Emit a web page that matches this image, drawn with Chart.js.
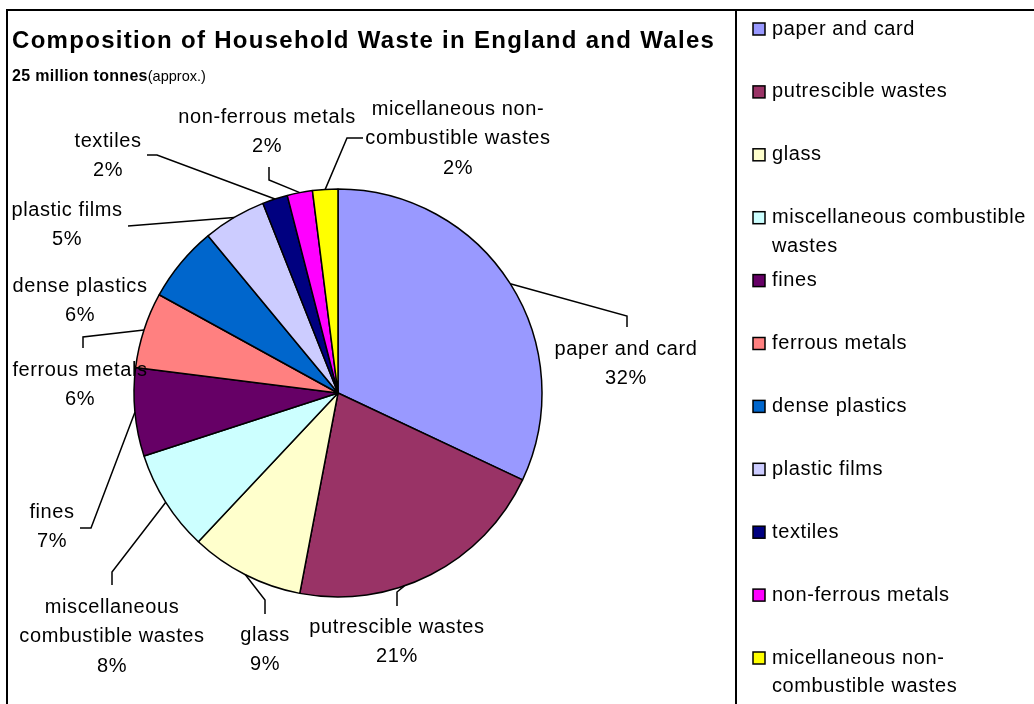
<!DOCTYPE html>
<html>
<head>
<meta charset="utf-8">
<script src="https://cdn.jsdelivr.net/npm/chart.js@4.4.0/dist/chart.umd.min.js"></script>
<style>
  html, body { margin: 0; padding: 0; background: #fff; }
  canvas { display: block; }
</style>
</head>
<body>
<canvas id="c" width="1034" height="704"></canvas>
<script>
// ---------- data ----------
const categories = [
  "paper and card", "putrescible wastes", "glass", "miscellaneous combustible wastes",
  "fines", "ferrous metals", "dense plastics", "plastic films", "textiles",
  "non-ferrous metals", "micellaneous non-combustible wastes"
];
const values = [32, 21, 9, 8, 7, 6, 6, 5, 2, 2, 2];
const colors = ["#9999FF", "#993366", "#FFFFCC", "#CCFFFF", "#660066", "#FF8080",
                "#0066CC", "#CCCCFF", "#000080", "#FF00FF", "#FFFF00"];
const sliceLabelLines = [
  ["paper and card"], ["putrescible wastes"], ["glass"], ["miscellaneous", "combustible wastes"],
  ["fines"], ["ferrous metals"], ["dense plastics"], ["plastic films"], ["textiles"],
  ["non-ferrous metals"], ["micellaneous non-", "combustible wastes"]
];
const legendLines = [
  ["paper and card"], ["putrescible wastes"], ["glass"], ["miscellaneous combustible", "wastes"],
  ["fines"], ["ferrous metals"], ["dense plastics"], ["plastic films"], ["textiles"],
  ["non-ferrous metals"], ["micellaneous non-", "combustible wastes"]
];
const titleText = "Composition of Household Waste in England and Wales";
const subtitleBold = "25 million tonnes";
const subtitleNormal = "(approx.)";

// ---------- label layout (positions of the data-label text & leader elbows) ----------
const labelLayout = [
  { x: 626, y: 349, leader: [[627, 316], [627, 327]], angleShift: 0 },
  { x: 397, y: 627, leader: [[397, 592], [397, 606]], angleShift: 8 },
  { x: 265, y: 635, leader: [[265, 600], [265, 614]], angleShift: 0 },
  { x: 112, y: 607, leader: [[112, 572], [112, 585]], angleShift: 0 },
  { x: 52,  y: 512, leader: [[91, 528], [80, 528]], angleShift: 0 },
  { x: 80,  y: 370, leader: [[83, 337], [83, 348]], angleShift: 0 },
  { x: 80,  y: 286, leader: null, angleShift: 0 },
  { x: 67,  y: 210, leader: [[128, 226]], angleShift: 0 },
  { x: 108, y: 141, leader: [[157, 155], [147, 155]], angleShift: 0 },
  { x: 267, y: 117, leader: [[269, 180], [269, 167]], angleShift: 0 },
  { x: 458, y: 109, leader: [[347, 138], [363, 138]], angleShift: 0 }
];

const FONT = '"Liberation Sans", Arial, sans-serif';
const LINE_H = 29.5;

const decor = {
  id: 'decor',
  beforeDraw(chart) {
    const ctx = chart.ctx;
    ctx.save();
    ctx.fillStyle = '#fff';
    ctx.fillRect(0, 0, chart.width, chart.height);
    ctx.restore();
  },
  afterDraw(chart) {
    const ctx = chart.ctx;
    const meta = chart.getDatasetMeta(0);
    const total = values.reduce((a, b) => a + b, 0);
    ctx.save();

    // frame
    ctx.strokeStyle = '#000';
    ctx.lineWidth = 2;
    ctx.beginPath();
    ctx.moveTo(7, 706); ctx.lineTo(7, 10); ctx.lineTo(1036, 10);
    ctx.moveTo(736, 10); ctx.lineTo(736, 706);
    ctx.stroke();

    // title
    ctx.fillStyle = '#000';
    ctx.textBaseline = 'alphabetic';
    ctx.textAlign = 'left';
    ctx.font = 'bold 24px ' + FONT;
    ctx.letterSpacing = '1.3px';
    ctx.fillText(titleText, 12, 48);
    ctx.font = 'bold 16px ' + FONT;
    ctx.letterSpacing = '0.3px';
    ctx.fillText(subtitleBold, 12, 81);
    const w = ctx.measureText(subtitleBold).width;
    ctx.font = '14.5px ' + FONT;
    ctx.letterSpacing = '0px';
    ctx.fillText(subtitleNormal, 12 + w, 81);

    // leader lines + labels
    ctx.font = '20px ' + FONT;
    ctx.letterSpacing = '0.6px';
    ctx.textAlign = 'center';
    ctx.textBaseline = 'middle';
    meta.data.forEach((arc, i) => {
      const L = labelLayout[i];
      if (L.leader) {
        const mid = (arc.startAngle + arc.endAngle) / 2 + L.angleShift * Math.PI / 180;
        const r = arc.outerRadius;
        ctx.strokeStyle = '#000';
        ctx.lineWidth = 1.5;
        ctx.beginPath();
        ctx.moveTo(arc.x + r * Math.cos(mid), arc.y + r * Math.sin(mid));
        L.leader.forEach(p => ctx.lineTo(p[0], p[1]));
        ctx.stroke();
      }
      const lines = sliceLabelLines[i].concat([Math.round(values[i] / total * 100) + '%']);
      lines.forEach((t, k) => ctx.fillText(t, L.x, L.y + k * LINE_H));
    });

    // legend
    ctx.textAlign = 'left';
    const legTop = 29, legStep = 62.9;
    legendLines.forEach((lines, i) => {
      const y = legTop + i * legStep;
      ctx.fillStyle = colors[i];
      ctx.fillRect(753, y - 6, 12, 12);
      ctx.strokeStyle = '#000';
      ctx.lineWidth = 1.5;
      ctx.strokeRect(753, y - 6, 12, 12);
      ctx.fillStyle = '#000';
      lines.forEach((t, k) => ctx.fillText(t, 772, y + k * 28.5));
    });
    ctx.restore();
  }
};

new Chart(document.getElementById('c'), {
  type: 'pie',
  data: {
    labels: categories,
    datasets: [{
      data: values,
      backgroundColor: colors,
      borderColor: '#000',
      borderWidth: 1.5
    }]
  },
  options: {
    responsive: false,
    animation: false,
    events: [],
    layout: { padding: { left: 133.25, top: 188.25, right: 491.25, bottom: 106.25 } },
    plugins: { legend: { display: false }, tooltip: { enabled: false }, title: { display: false } }
  },
  plugins: [decor]
});
</script>
</body>
</html>
